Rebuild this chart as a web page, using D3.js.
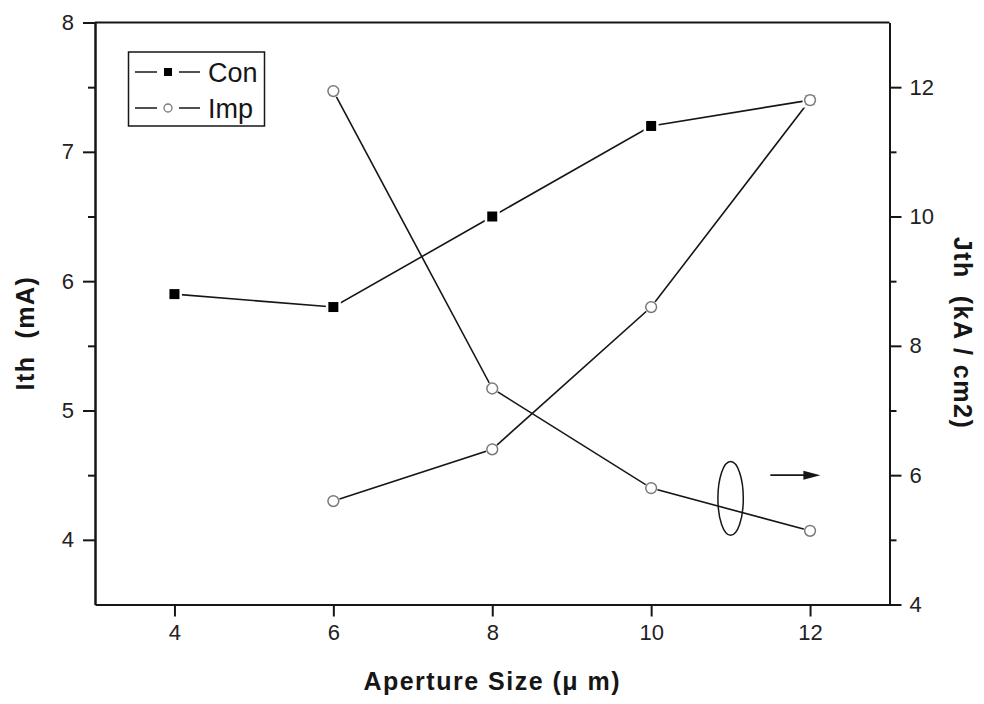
<!DOCTYPE html>
<html>
<head>
<meta charset="utf-8">
<script src="https://cdn.jsdelivr.net/npm/d3@7"></script>
<style>
  html, body { margin: 0; padding: 0; background: #fff; }
  svg { display: block; font-family: "Liberation Sans", Arial, sans-serif; }
</style>
</head>
<body>
<svg id="chart" width="984" height="704"></svg>
<script>
// Aperture sizes (µm)
const apertures = [4, 6, 8, 10, 12];
// Threshold current, conventional devices (mA, left axis)
const conIth = [5.9, 5.8, 6.5, 7.2, 7.4];
// Threshold current, implanted devices (mA, left axis)
const impApertures = [6, 8, 10, 12];
const impIth = [4.3, 4.7, 5.8, 7.4];
// Threshold current density, implanted devices (kA/cm2, right axis)
const impJth = [11.94, 7.34, 5.8, 5.14];

const xTicks = [4, 6, 8, 10, 12];
const leftTicks = [4, 5, 6, 7, 8];
const leftMinor = [4.5, 5.5, 6.5, 7.5];
const rightTicks = [4, 6, 8, 10, 12];
const rightMinor = [5, 7, 9, 11];

// Ellipse marking the Jth curve, and arrow pointing to the right axis
const markEllipse = { x: 11.0, y: 5.64, rx: 0.16, ry: 0.57 };
const markArrow = { x1: 11.5, x2: 12.13, y: 6.0 };

const svg = d3.select("#chart");
const plotLeft = 95, plotRight = 889.5, plotTop = 22.5, plotBottom = 604.5;
const ink = "#161616";

const x = d3.scaleLinear().domain([3, 13]).range([plotLeft, plotRight]);
const yL = d3.scaleLinear().domain([3.5, 8]).range([plotBottom, plotTop]);
const yR = d3.scaleLinear().domain([4, 13]).range([plotBottom, plotTop]);

function styleAxis(g) {
  g.selectAll(".domain").attr("stroke", ink).attr("stroke-width", 2);
  g.selectAll(".tick line").attr("stroke", ink).attr("stroke-width", 2);
  g.selectAll(".tick text")
    .attr("fill", "#222")
    .style("font-size", "22px")
    .style("font-family", "'Liberation Sans', Arial, sans-serif");
}

// minor ticks (no labels)
function minorAxis(axisFn, scale, values, size) {
  return axisFn(scale).tickValues(values).tickSize(size).tickSizeOuter(0).tickFormat("");
}

// Left axis
svg.append("g").attr("transform", `translate(${plotLeft},0)`)
  .call(minorAxis(d3.axisLeft, yL, leftMinor, 7)).call(styleAxis);
svg.append("g").attr("transform", `translate(${plotLeft},0)`)
  .call(d3.axisLeft(yL).tickValues(leftTicks).tickSize(12).tickSizeOuter(0).tickPadding(9).tickFormat(d3.format("d")))
  .call(styleAxis);

// Right axis
svg.append("g").attr("transform", `translate(${plotRight},0)`)
  .call(minorAxis(d3.axisRight, yR, rightMinor, 7)).call(styleAxis);
svg.append("g").attr("transform", `translate(${plotRight},0)`)
  .call(d3.axisRight(yR).tickValues(rightTicks).tickSize(12).tickSizeOuter(0).tickPadding(8).tickFormat(d3.format("d")))
  .call(styleAxis);

// Bottom axis
svg.append("g").attr("transform", `translate(0,${plotBottom})`)
  .call(d3.axisBottom(x).tickValues(xTicks).tickSize(12).tickSizeOuter(0).tickPadding(8).tickFormat(d3.format("d")))
  .call(styleAxis);

// Top frame line
svg.append("line")
  .attr("x1", plotLeft).attr("x2", plotRight).attr("y1", plotTop).attr("y2", plotTop)
  .attr("stroke", ink).attr("stroke-width", 2);

// Axis titles
function axisTitle(transform, label) {
  svg.append("text")
    .attr("transform", transform)
    .attr("text-anchor", "middle")
    .style("font-size", "25px").style("font-weight", "bold")
    .style("letter-spacing", "1.5px").style("white-space", "pre")
    .attr("fill", ink)
    .text(label);
}
axisTitle(`translate(${(plotLeft + plotRight) / 2},690)`, "Aperture Size (\u03BC m)");
axisTitle(`translate(34,333) rotate(-90)`, "Ith  (mA)");
axisTitle(`translate(954,333) rotate(90)`, "Jth  (kA / cm2)");

// Series
const lineGen = (ys) => d3.line().x(d => x(d[0])).y(d => ys(d[1]));

const conData = apertures.map((a, i) => [a, conIth[i]]);
const impIthData = impApertures.map((a, i) => [a, impIth[i]]);
const impJthData = impApertures.map((a, i) => [a, impJth[i]]);

const plot = svg.append("g");

function drawLine(data, ys) {
  plot.append("path").datum(data)
    .attr("d", lineGen(ys))
    .attr("fill", "none").attr("stroke", ink).attr("stroke-width", 1.6);
}

function drawSquares(data, ys) {
  const g = plot.append("g");
  g.selectAll("rect.halo").data(data).join("rect")
    .attr("x", d => x(d[0]) - 7.5).attr("y", d => ys(d[1]) - 7.5)
    .attr("width", 15).attr("height", 15).attr("fill", "#fff");
  g.selectAll("rect.mark").data(data).join("rect")
    .attr("x", d => x(d[0]) - 5).attr("y", d => ys(d[1]) - 5)
    .attr("width", 10).attr("height", 10).attr("fill", "#000");
}

function drawCircles(data, ys) {
  const g = plot.append("g");
  g.selectAll("circle.halo").data(data).join("circle")
    .attr("cx", d => x(d[0])).attr("cy", d => ys(d[1]))
    .attr("r", 6.6).attr("fill", "#fff");
  g.selectAll("circle.mark").data(data).join("circle")
    .attr("cx", d => x(d[0])).attr("cy", d => ys(d[1]))
    .attr("r", 5.4).attr("fill", "#fff").attr("stroke", "#7a7a7a").attr("stroke-width", 1.5);
}

drawLine(conData, yL);
drawLine(impIthData, yL);
drawLine(impJthData, yR);
drawSquares(conData, yL);
drawCircles(impIthData, yL);
drawCircles(impJthData, yR);

// Ellipse annotation and arrow
const ex = x(markEllipse.x), ey = yR(markEllipse.y);
svg.append("ellipse")
  .attr("cx", ex).attr("cy", ey)
  .attr("rx", x(markEllipse.x + markEllipse.rx) - ex)
  .attr("ry", ey - yR(markEllipse.y + markEllipse.ry))
  .attr("fill", "none").attr("stroke", ink).attr("stroke-width", 1.5);

const ax1 = x(markArrow.x1), ax2 = x(markArrow.x2), ay = yR(markArrow.y);
svg.append("line")
  .attr("x1", ax1).attr("x2", ax2 - 14).attr("y1", ay).attr("y2", ay)
  .attr("stroke", ink).attr("stroke-width", 1.6);
svg.append("path")
  .attr("d", `M${ax2},${ay} L${ax2 - 17},${ay - 4.5} L${ax2 - 17},${ay + 4.5} Z`)
  .attr("fill", ink);

// Legend
const legend = svg.append("g");
legend.append("rect")
  .attr("x", 128.5).attr("y", 52).attr("width", 136).attr("height", 74)
  .attr("fill", "#fff").attr("stroke", ink).attr("stroke-width", 1.5);

const legendItems = [
  { name: "Con", y: 72, kind: "square" },
  { name: "Imp", y: 108, kind: "circle" }
];
legendItems.forEach(item => {
  legend.append("line").attr("x1", 135).attr("x2", 157).attr("y1", item.y).attr("y2", item.y)
    .attr("stroke", ink).attr("stroke-width", 1.5);
  legend.append("line").attr("x1", 179).attr("x2", 200).attr("y1", item.y).attr("y2", item.y)
    .attr("stroke", ink).attr("stroke-width", 1.5);
  if (item.kind === "square") {
    legend.append("rect").attr("x", 164).attr("y", item.y - 4).attr("width", 8).attr("height", 8).attr("fill", "#000");
  } else {
    legend.append("circle").attr("cx", 168).attr("cy", item.y).attr("r", 4)
      .attr("fill", "#fff").attr("stroke", "#7a7a7a").attr("stroke-width", 1.3);
  }
  legend.append("text").attr("x", 208).attr("y", item.y + 9.5)
    .style("font-size", "27px").attr("fill", ink).text(item.name);
});
</script>
</body>
</html>
